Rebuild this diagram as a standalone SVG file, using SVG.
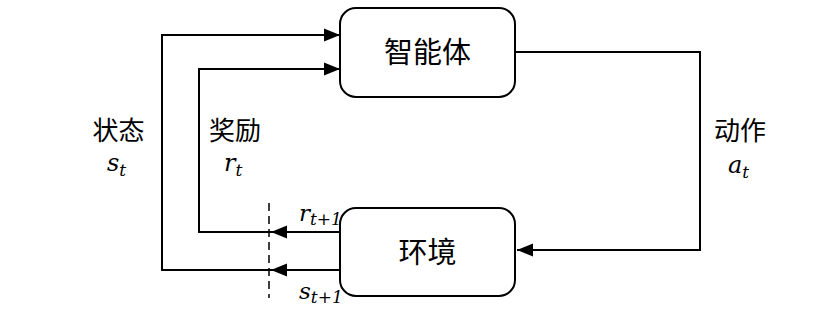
<svg xmlns="http://www.w3.org/2000/svg" width="819" height="315" viewBox="0 0 819 315">
<style>
.box{fill:#fff;stroke:#000;stroke-width:2}
.ln{fill:none;stroke:#000;stroke-width:2}
.dash{fill:none;stroke:#000;stroke-width:1.5;stroke-dasharray:8 5}
.cjk{font-family:"Noto Sans CJK SC","Noto Sans CJK JP",sans-serif;fill:#000}
.m{font-family:"DejaVu Serif","Liberation Serif",serif;font-style:italic;fill:#000}
</style>
<defs>
<marker id="ah" markerUnits="userSpaceOnUse" markerWidth="17" markerHeight="14" refX="16" refY="7" orient="auto">
<path d="M0,0.5 L16,7 L0,13.5 Z" fill="#000"/>
</marker>
</defs>
<rect width="819" height="315" fill="#fff"/>
<g id="connectors">
<path class="ln" d="M271,270 L162,270 L162,35 L340,35" marker-end="url(#ah)"/>
<path class="ln" d="M271,232 L199,232 L199,69 L340,69" marker-end="url(#ah)"/>
<path class="ln" d="M340,232 L271,232" marker-end="url(#ah)"/>
<path class="ln" d="M340,270 L271,270" marker-end="url(#ah)"/>
<path class="ln" d="M515,52 L700,52 L700,250 L517,250" marker-end="url(#ah)"/>
<line class="dash" x1="269" y1="203" x2="269" y2="298"/>
</g>
<g id="agent">
<rect class="box" x="340" y="8" width="175" height="89" rx="16"/>
<text class="cjk" x="427.5" y="63" font-size="29" text-anchor="middle">智能体</text>
</g>
<g id="environment">
<rect class="box" x="340" y="208" width="175" height="88" rx="16"/>
<text class="cjk" x="427.5" y="263" font-size="29" text-anchor="middle">环境</text>
</g>
<g id="labels">
<text class="cjk" x="118.5" y="140" font-size="26" text-anchor="middle">状态</text>
<text class="m" x="107" y="171" font-size="24">s<tspan font-size="17" dy="5">t</tspan></text>
<text class="cjk" x="235" y="140" font-size="26" text-anchor="middle">奖励</text>
<text class="m" x="224" y="171" font-size="24">r<tspan font-size="17" dy="5">t</tspan></text>
<text class="cjk" x="740" y="140" font-size="26" text-anchor="middle">动作</text>
<text class="m" x="728" y="173" font-size="24">a<tspan font-size="17" dy="5">t</tspan></text>
<text class="m" x="299" y="221" font-size="23">r<tspan font-size="17" dy="4">t+1</tspan></text>
<text class="m" x="299" y="299" font-size="23">s<tspan font-size="17" dy="4">t+1</tspan></text>
</g>
</svg>
